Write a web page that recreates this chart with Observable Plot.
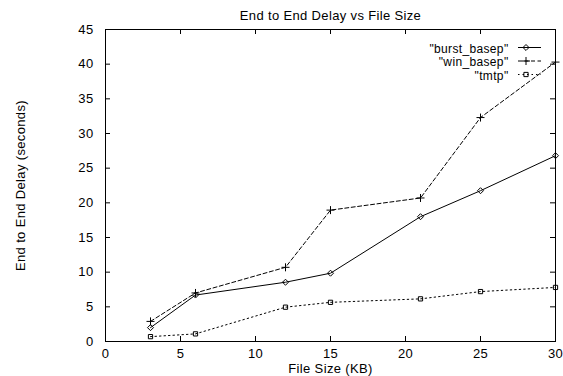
<!DOCTYPE html>
<html><head><meta charset="utf-8">
<script src="https://cdn.jsdelivr.net/npm/d3@7"></script>
<script src="https://cdn.jsdelivr.net/npm/@observablehq/plot@0.6"></script>
<style>body{margin:0;background:#fff;}</style>
</head><body><div id="chart"></div>
<script>
const fileSizes = [3, 6, 12, 15, 21, 25, 30];
const burstBasep = [2.0, 6.7, 8.55, 9.85, 18.0, 21.75, 26.8];
const winBasep = [2.9, 7.0, 10.7, 18.95, 20.7, 32.3, 40.3];
const tmtp = [0.7, 1.1, 4.95, 5.65, 6.15, 7.2, 7.8];
const seriesNames = ['"burst_basep"', '"win_basep"', '"tmtp"'];
const xTicks = [0, 5, 10, 15, 20, 25, 30];
const yTicks = [0, 5, 10, 15, 20, 25, 30, 35, 40, 45];
const titleText = "End to End Delay vs File Size";
const xLabel = "File Size (KB)";
const yLabel = "End to End Delay (seconds)";

const W = 563, H = 376;
const mL = 105, mR = 8, mT = 29, mB = 35;
const innerW = W - mL - mR, innerH = H - mT - mB;
const tick = 5;
const font = "'Liberation Sans', Arial, Helvetica, sans-serif";
const fs = 13;
const legendFs = 12;
const rowGap = 13.5;
const legendMid = 32.5; // offset of the middle legend row below the frame top

const styles = [
  {dash: null, symbol: "diamond2", d3sym: d3.symbolDiamond2},
  {dash: "4,2.5", symbol: "plus", d3sym: d3.symbolPlus},
  {dash: "1.5,3", symbol: "square2", d3sym: d3.symbolSquare2}
];
const symR = 2.7;
const seriesValues = [burstBasep, winBasep, tmtp];
const tables = seriesValues.map((vals, s) => fileSizes.map((x, i) => ({series: seriesNames[s], x, y: vals[i]})));

const marks = [
  Plot.frame({stroke: "black", strokeWidth: 1}),
  Plot.tickX(xTicks, {x: d => d, insetTop: innerH - tick, stroke: "black"}),
  Plot.tickX(xTicks, {x: d => d, insetBottom: innerH - tick, stroke: "black"}),
  Plot.tickY(yTicks, {y: d => d, insetRight: innerW - tick, stroke: "black"}),
  Plot.tickY(yTicks, {y: d => d, insetLeft: innerW - tick, stroke: "black"}),
  Plot.axisX(xTicks, {tickSize: 0, tickPadding: 7.5, label: null, fontSize: fs}),
  Plot.axisY(yTicks, {tickSize: 0, tickPadding: 12, label: null, fontSize: fs}),
  Plot.text([titleText], {text: d => d, frameAnchor: "top", dy: -14, lineAnchor: "middle", textAnchor: "middle", fontSize: fs, fill: "black"}),
  Plot.text([xLabel], {text: d => d, frameAnchor: "bottom", dy: 27.5, lineAnchor: "middle", textAnchor: "middle", fontSize: fs, fill: "black"}),
  Plot.text([yLabel], {text: d => d, frameAnchor: "left", dx: -85, rotate: -90, lineAnchor: "middle", textAnchor: "middle", fontSize: fs, fill: "black"}),
  // legend labels as one multi-line text block
  Plot.text([seriesNames.join("\n")], {text: d => d, frameAnchor: "top-right", dx: -47, dy: legendMid, lineAnchor: "middle", lineHeight: rowGap / legendFs, textAnchor: "end", fontSize: legendFs, fill: "black", style: "letter-spacing:0.7px"})
];
tables.forEach((t, s) => {
  marks.push(Plot.line(t, {x: "x", y: "y", stroke: "black", strokeWidth: 1, strokeDasharray: styles[s].dash}));
  marks.push(Plot.dot(t, {x: "x", y: "y", symbol: styles[s].symbol, r: symR, stroke: "black", strokeWidth: 1, fill: "none"}));
});

const chart = Plot.plot({
  width: W, height: H,
  marginLeft: mL, marginRight: mR, marginTop: mT, marginBottom: mB,
  style: {fontFamily: font, fontSize: fs + "px", background: "#fff", color: "black", letterSpacing: "0.35px"},
  x: {domain: [0, 30]},
  y: {domain: [0, 45]},
  marks
});
document.getElementById("chart").appendChild(chart);

// legend samples (line + symbol), positioned relative to the frame
const svg = d3.select(chart);
const right = W - mR;
seriesNames.forEach((name, s) => {
  const cy = mT + legendMid + rowGap * (s - 1) - 0.5;
  svg.append("line")
    .attr("x1", right - 37).attr("x2", right - 14)
    .attr("y1", cy).attr("y2", cy)
    .attr("stroke", "black").attr("stroke-width", 1)
    .attr("stroke-dasharray", styles[s].dash);
  svg.append("path")
    .attr("transform", `translate(${right - 29},${cy})`)
    .attr("d", d3.symbol(styles[s].d3sym, Math.PI * symR * symR)())
    .attr("fill", "none").attr("stroke", "black").attr("stroke-width", 1);
});
</script>
</body></html>
